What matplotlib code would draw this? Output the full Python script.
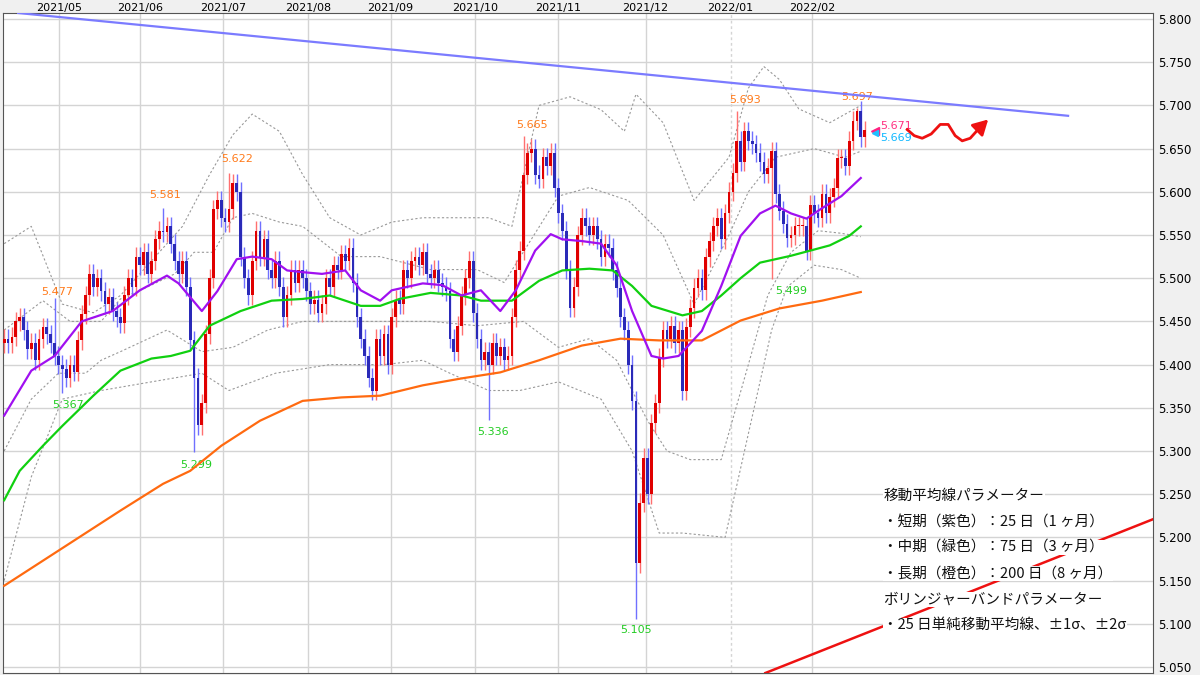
import numpy as np
import matplotlib
matplotlib.use('Agg')
import matplotlib.pyplot as plt

plt.rcParams['font.family'] = ['Noto Sans CJK JP', 'DejaVu Sans']

# daily closes (5.xxx, in thousandths above 5.000)
closes = [430, 425, 432, 450, 455, 440, 418, 425, 405, 430,
          443, 435, 425, 410, 400, 395, 385, 400, 392, 428,
          458, 480, 505, 490, 500, 485, 470, 478, 462, 455,
          448, 480, 500, 490, 525, 515, 530, 505, 520, 545,
          555, 553, 560, 540, 520, 505, 520, 490, 428, 385,
          330, 355, 435, 500, 580, 590, 570, 565, 580, 610,
          600, 525, 500, 480, 520, 555, 525, 545, 510, 500,
          520, 490, 455, 480, 510, 495, 510, 500, 485, 470,
          475, 460, 470, 500, 490, 515, 510, 528, 520, 535,
          495, 455, 430, 410, 385, 370, 430, 410, 435, 400,
          455, 475, 470, 510, 500, 520, 525, 515, 530, 505,
          500, 510, 495, 490, 485, 430, 415, 445, 480, 500,
          520, 460, 430, 405, 415, 400, 425, 410, 420, 405,
          410, 455, 510, 532, 620, 645, 650, 620, 615, 640,
          630, 645, 605, 575, 555, 510, 466, 490, 550, 570,
          560, 550, 560, 545, 525, 540, 535, 509, 489,
          455, 440, 400, 358, 170, 240, 292, 250, 332, 355,
          408, 440, 430, 445, 425, 440, 370, 443,
          465, 489, 500, 486, 524, 543, 560, 570, 545, 575, 600, 622, 659,
          635, 670, 659, 655, 645, 635, 621, 628, 647, 598,
          578, 563, 547, 550, 560, 560, 560, 532, 585, 575,
          570, 598, 575, 594, 605, 639, 639, 630, 659, 682,
          694, 663, 671]
first_open = 425
# highs / lows of the labelled candles
special_highs = {13: 5.477, 41: 5.581, 58: 5.622, 134: 5.665, 189: 5.693, 220: 5.697}
special_lows = {15: 5.367, 49: 5.299, 125: 5.336, 163: 5.105, 198: 5.499}
wick = 0.011

month_labels = ['2021/05', '2021/06', '2021/07', '2021/08', '2021/09',
                '2021/10', '2021/11', '2021/12', '2022/01', '2022/02']
month_pos = [14.2, 35.1, 56.4, 78.4, 99.7, 121.4, 142.8, 165.5, 187.4, 208.5]

# moving averages / bands, sampled at candle index positions
ma25_i = [0, 7, 13, 20, 28, 35, 42, 45, 51, 55, 60, 64, 69, 73, 77, 82, 88, 92, 97, 100, 108,
          113, 118, 123, 128, 132, 137, 141, 144, 149, 154, 158, 162, 167, 170, 174, 180, 185,
          190, 195, 199, 203, 207, 211, 216, 221]
ma25_v = [5.341, 5.393, 5.410, 5.450, 5.462, 5.486, 5.503, 5.494, 5.462, 5.485, 5.522, 5.525,
          5.522, 5.509, 5.507, 5.505, 5.509, 5.486, 5.474, 5.486, 5.494, 5.492, 5.480, 5.486,
          5.462, 5.486, 5.532, 5.551, 5.545, 5.543, 5.540, 5.515, 5.462, 5.410, 5.407, 5.410,
          5.439, 5.491, 5.549, 5.575, 5.584, 5.575, 5.569, 5.581, 5.595, 5.616]
ma75_i = [0, 4, 10, 15, 23, 30, 38, 43, 48, 53, 61, 69, 77, 84, 92, 97, 102, 110, 118, 123,
          131, 138, 144, 151, 157, 162, 167, 175, 180, 185, 190, 195, 199, 203, 208, 213, 218, 221]
ma75_v = [5.243, 5.277, 5.306, 5.329, 5.364, 5.393, 5.407, 5.410, 5.416, 5.445, 5.462, 5.474,
          5.476, 5.480, 5.468, 5.468, 5.476, 5.483, 5.480, 5.474, 5.474, 5.497, 5.509, 5.511,
          5.509, 5.491, 5.468, 5.457, 5.462, 5.480, 5.500, 5.518, 5.522, 5.526, 5.532, 5.538,
          5.549, 5.560]
ma200_i = [0, 10, 20, 30, 41, 48, 56, 66, 77, 87, 97, 108, 118, 128, 138, 149, 159, 169, 180,
           190, 200, 211, 221]
ma200_v = [5.144, 5.173, 5.202, 5.231, 5.262, 5.277, 5.306, 5.335, 5.358, 5.362, 5.364, 5.376,
           5.384, 5.391, 5.405, 5.422, 5.430, 5.428, 5.428, 5.451, 5.465, 5.474, 5.484]
up2_i = [0, 7, 15, 23, 30, 38, 46, 53, 59, 64, 71, 77, 84, 92, 100, 108, 116, 125, 131, 138,
         146, 154, 160, 163, 170, 178, 187, 192, 196, 200, 205, 213, 221]
up2_v = [5.540, 5.560, 5.470, 5.460, 5.480, 5.520, 5.560, 5.620, 5.666, 5.690, 5.670, 5.620,
         5.570, 5.550, 5.565, 5.570, 5.570, 5.570, 5.560, 5.700, 5.710, 5.695, 5.670, 5.713,
         5.680, 5.590, 5.640, 5.720, 5.745, 5.730, 5.696, 5.680, 5.700]
up1_i = [0, 10, 17, 25, 30, 37, 44, 49, 54, 59, 64, 71, 77, 87, 97, 110, 122, 129, 143, 151,
         161, 170, 178, 187, 192, 199, 209, 217, 221]
up1_v = [5.440, 5.474, 5.450, 5.450, 5.476, 5.490, 5.505, 5.530, 5.530, 5.570, 5.575, 5.565,
         5.560, 5.525, 5.525, 5.510, 5.510, 5.495, 5.595, 5.605, 5.590, 5.550, 5.470, 5.550,
         5.600, 5.640, 5.650, 5.640, 5.647]
dn1_i = [0, 7, 14, 21, 25, 30, 42, 51, 59, 68, 77, 87, 97, 110, 122, 134, 143, 151, 158, 166,
         171, 177, 185, 192, 197, 203, 210, 216, 221]
dn1_v = [5.300, 5.360, 5.390, 5.390, 5.405, 5.415, 5.440, 5.415, 5.420, 5.440, 5.450, 5.450,
         5.450, 5.450, 5.445, 5.450, 5.420, 5.430, 5.405, 5.335, 5.300, 5.290, 5.290, 5.400,
         5.480, 5.530, 5.555, 5.552, 5.548]
dn2_i = [0, 7, 15, 25, 38, 51, 58, 70, 84, 98, 108, 115, 125, 133, 143, 154, 162, 169, 175,
         186, 190, 195, 198, 202, 209, 216, 221]
dn2_v = [5.150, 5.270, 5.360, 5.370, 5.380, 5.390, 5.370, 5.390, 5.400, 5.400, 5.405, 5.390,
         5.370, 5.370, 5.380, 5.360, 5.300, 5.205, 5.205, 5.200, 5.280, 5.380, 5.440, 5.490,
         5.515, 5.510, 5.500]

labels_hi = [(5.477, 9.5, 5.4785), (5.581, 37.5, 5.590), (5.622, 56.0, 5.632),
             (5.665, 132.0, 5.672), (5.693, 187.0, 5.700), (5.697, 216.0, 5.704)]
labels_lo = [(5.367, 12.5, 5.359), (5.299, 45.5, 5.290), (5.336, 122.0, 5.328),
             (5.105, 159.0, 5.098), (5.499, 199.0, 5.491)]

n = len(closes)
c = 5 + np.array(closes) / 1000.0
o = np.concatenate([[5 + first_open / 1000.0], c[:-1]])
hi = np.maximum(o, c) + wick
lo = np.minimum(o, c) - wick
for k, v in special_highs.items():
    hi[k] = v
for k, v in special_lows.items():
    lo[k] = v
idx = np.arange(n)

fig = plt.figure(figsize=(12, 6.75), dpi=100)
fig.patch.set_facecolor('#f0f0f0')
ax = fig.add_axes([3 / 1200, 2 / 675, 1150 / 1200, 660 / 675])
ax.set_facecolor('white')
xmax = (1153 - 3) / 3.88
ax.set_xlim(-0.3, xmax)
ax.set_ylim(5.043, 5.807)

yt = np.arange(5.05, 5.801, 0.05)
ax.set_yticks(yt)
ax.set_yticklabels(['%.3f' % v for v in yt], fontsize=8.5, family='DejaVu Sans')
ax.yaxis.tick_right()
ax.set_xticks(month_pos)
ax.set_xticklabels(month_labels, fontsize=8, family='DejaVu Sans')
ax.xaxis.tick_top()
ax.tick_params(axis='x', length=0, pad=0)
ax.tick_params(axis='y', length=0, pad=4)
ax.grid(True, color='#d4d4d4', linewidth=1)
ax.get_xgridlines()[8].set_linestyle((0, (2, 2)))
ax.set_axisbelow(True)
for s in ax.spines.values():
    s.set_color('#555555')

colors = np.where(c >= o, '#e00000', '#2a2ab8')
wcol = np.where(c >= o, '#ff7070', '#7070ff')
ax.vlines(idx, lo, hi, colors=wcol, linewidth=1.0, zorder=3)
ax.bar(idx, np.maximum(np.abs(c - o), 0.0015), bottom=np.minimum(o, c), width=0.7,
       color=colors, zorder=4)

for bi, bv in [(up2_i, up2_v), (up1_i, up1_v), (dn1_i, dn1_v), (dn2_i, dn2_v)]:
    ax.plot(bi, bv, color='#999999', linestyle=(0, (2, 2)), linewidth=0.8, zorder=2)
ax.plot(ma200_i, ma200_v, color='#ff6a10', linewidth=1.6, zorder=5)
ax.plot(ma75_i, ma75_v, color='#10d010', linewidth=1.6, zorder=5)
ax.plot(ma25_i, ma25_v, color='#a010f0', linewidth=1.6, zorder=5)

# trend lines
ax.plot([(17 - 3) / 3.88, (1068 - 3) / 3.88], [5.807, 5.688], color='#7b7bff', linewidth=1.6, zorder=5)
ax.plot([(765 - 3) / 3.88, xmax], [5.043, 5.221], color='#ee1111', linewidth=1.8, zorder=5)

for v, x, y in labels_hi:
    ax.text(x, y, '%.3f' % v, color='#ff7a1a', fontsize=8, family='DejaVu Sans', ha='left', va='bottom')
for v, x, y in labels_lo:
    ax.text(x, y, '%.3f' % v, color='#22cc22', fontsize=8, family='DejaVu Sans', ha='left', va='top')

ax.plot([n + 1.6], [5.6705], marker='<', color='#ff2080', markersize=6, zorder=6)
ax.plot([n + 1.6], [5.668], marker='<', color='#20c0ff', markersize=4, zorder=6)
ax.text(n + 3, 5.676, '5.671', color='#ff3080', fontsize=8, family='DejaVu Sans', va='center')
ax.text(n + 3, 5.662, '5.669', color='#10b8ff', fontsize=8, family='DejaVu Sans', va='center')

# squiggle arrow
sq_x = [907, 914, 922, 931, 940, 948, 955, 962, 970, 977]
sq_y = [5.672, 5.665, 5.662, 5.667, 5.678, 5.678, 5.665, 5.659, 5.662, 5.671]
ax.plot([(v - 3) / 3.88 for v in sq_x], sq_y, color='#ee1111', linewidth=2, zorder=6)
ax.annotate('', xy=((990 - 3) / 3.88, 5.686), xytext=((975 - 3) / 3.88, 5.669),
            arrowprops=dict(arrowstyle='-|>,head_width=0.5,head_length=0.9', color='#ee1111', lw=2))

notes = ['移動平均線パラメーター', '・短期（紫色）：25 日（1 ヶ月）', '・中期（緑色）：75 日（3 ヶ月）',
         '・長期（橙色）：200 日（8 ヶ月）', 'ボリンジャーバンドパラメーター', '・25 日単純移動平均線、±1σ、±2σ']
for k, t in enumerate(notes):
    ax.text((883 - 3) / 3.88, 5.800 - (495 + 26 * k - 18) / 865.0, t, fontsize=10.5,
            color='#111111', va='center', ha='left', zorder=7,
            bbox=dict(facecolor='white', edgecolor='none', pad=0.5))

fig.savefig('out.png', dpi=100, facecolor=fig.get_facecolor())
